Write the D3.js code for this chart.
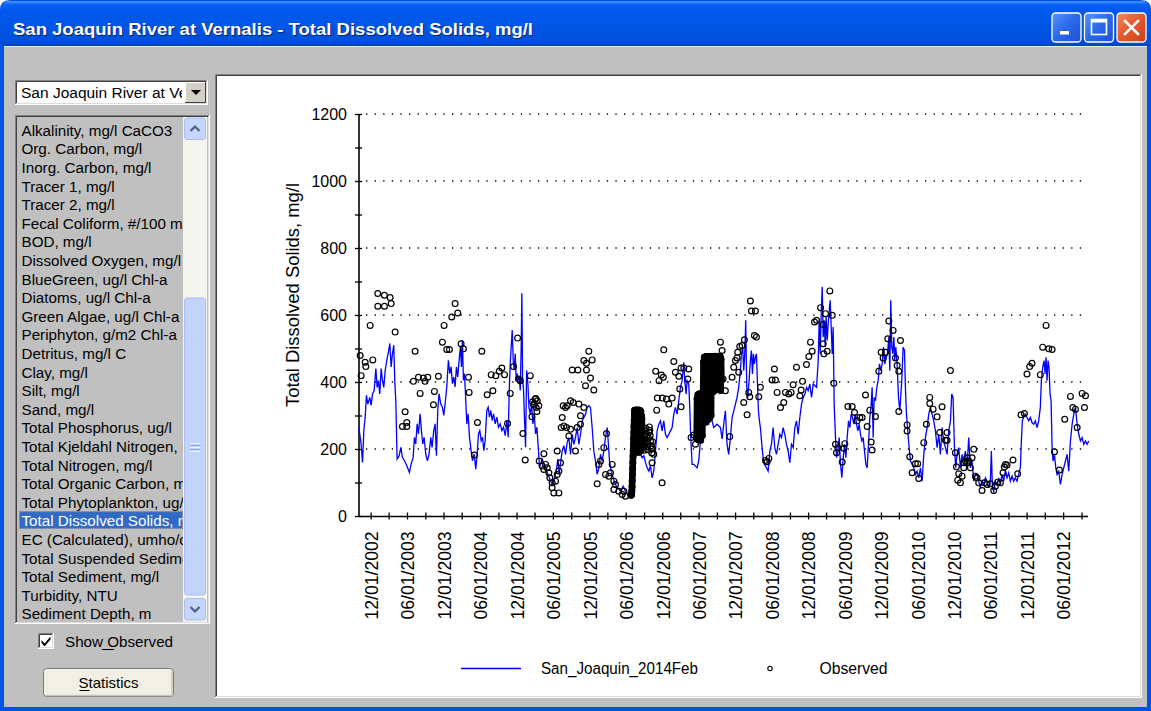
<!DOCTYPE html>
<html>
<head>
<meta charset="utf-8">
<script src="https://cdn.jsdelivr.net/npm/d3@7"></script>
<style>
  body { margin: 0; background: #ffffff; }
  svg { display: block; font-family: "Liberation Sans", Arial, sans-serif; }
</style>
</head>
<body>
<svg id="win" width="1151" height="711"></svg>
<script>
// values, time as decimal year

const windowTitle = "San Joaquin River at Vernalis - Total Dissolved Solids, mg/l";
const stationName = "San Joaquin River at Vernalis";
const yTitle = "Total Dissolved Solids, mg/l";
const simName = "San_Joaquin_2014Feb";
const obsName = "Observed";

const listItems = ["Alkalinity, mg/l CaCO3","Org. Carbon, mg/l","Inorg. Carbon, mg/l","Tracer 1, mg/l","Tracer 2, mg/l",
  "Fecal Coliform, #/100 ml","BOD, mg/l","Dissolved Oxygen, mg/l","BlueGreen, ug/l Chl-a","Diatoms, ug/l Chl-a",
  "Green Algae, ug/l Chl-a","Periphyton, g/m2 Chl-a","Detritus, mg/l C","Clay, mg/l","Silt, mg/l","Sand, mg/l",
  "Total Phosphorus, ug/l","Total Kjeldahl Nitrogen, mg/l","Total Nitrogen, mg/l","Total Organic Carbon, mg/l",
  "Total Phytoplankton, ug/l Chl-a","Total Dissolved Solids, mg/l","EC (Calculated), umho/cm",
  "Total Suspended Sediment, mg/l","Total Sediment, mg/l","Turbidity, NTU","Sediment Depth, m"];
const selectedItem = "Total Dissolved Solids, mg/l";

const yTicks = [0, 200, 400, 600, 800, 1000, 1200];
const xLabelDates = ["2002-12-01","2003-06-01","2003-12-01","2004-06-01","2004-12-01","2005-06-01","2005-12-01",
  "2006-06-01","2006-12-01","2007-06-01","2007-12-01","2008-06-01","2008-12-01","2009-06-01","2009-12-01",
  "2010-06-01","2010-12-01","2011-06-01","2011-12-01","2012-06-01"];
const xStart = "2002-10-01", xEnd = "2012-10-01";

// simulated TDS
const simTds = [
[2002.748,264],[2002.766,244],[2002.784,214],[2002.803,160],[2002.821,254],[2002.839,294],[2002.857,360],[2002.876,334],
[2002.903,354],[2002.922,330],[2002.940,364],[2002.963,374],[2002.986,440],[2003.004,384],[2003.022,404],[2003.040,364],
[2003.059,440],[2003.077,404],[2003.095,384],[2003.114,434],[2003.136,464],[2003.159,490],[2003.178,515],[2003.196,445],
[2003.214,485],[2003.232,510],[2003.246,404],[2003.260,345],[2003.278,170],[2003.306,180],[2003.329,205],[2003.351,175],
[2003.379,165],[2003.411,150],[2003.447,130],[2003.470,155],[2003.498,175],[2003.516,235],[2003.534,215],[2003.553,275],
[2003.571,245],[2003.594,305],[2003.612,255],[2003.630,215],[2003.649,235],[2003.671,185],[2003.694,165],[2003.717,185],
[2003.740,235],[2003.758,205],[2003.781,255],[2003.800,275],[2003.818,180],[2003.836,315],[2003.854,365],[2003.877,335],
[2003.900,325],[2003.918,300],[2003.937,335],[2003.960,385],[2003.982,465],[2004.001,425],[2004.019,445],[2004.037,395],
[2004.056,415],[2004.074,385],[2004.092,445],[2004.110,415],[2004.129,465],[2004.147,505],[2004.161,445],[2004.174,525],
[2004.188,405],[2004.202,425],[2004.216,365],[2004.234,275],[2004.252,305],[2004.271,235],[2004.293,195],[2004.312,165],
[2004.335,185],[2004.357,140],[2004.376,185],[2004.394,245],[2004.412,255],[2004.431,225],[2004.449,235],[2004.467,195],
[2004.485,225],[2004.508,315],[2004.527,325],[2004.545,295],[2004.563,315],[2004.581,285],[2004.600,305],[2004.623,275],
[2004.645,295],[2004.668,265],[2004.691,275],[2004.714,255],[2004.737,265],[2004.760,240],[2004.783,285],[2004.801,235],
[2004.815,375],[2004.829,455],[2004.842,505],[2004.856,555],[2004.870,465],[2004.883,435],[2004.897,485],[2004.911,405],
[2004.924,425],[2004.938,405],[2004.952,415],[2004.966,375],[2004.979,505],[2004.988,665],[2004.998,415],[2005.011,375],
[2005.025,285],[2005.039,205],[2005.053,435],[2005.071,395],[2005.085,325],[2005.103,305],[2005.121,335],[2005.139,275],
[2005.158,305],[2005.176,245],[2005.194,265],[2005.213,205],[2005.231,145],[2005.267,170],[2005.299,150],[2005.336,130],
[2005.372,110],[2005.404,95],[2005.436,110],[2005.464,140],[2005.482,170],[2005.500,125],[2005.541,194],[2005.564,210],
[2005.587,184],[2005.610,220],[2005.633,234],[2005.656,184],[2005.679,244],[2005.702,214],[2005.724,234],[2005.747,264],
[2005.770,214],[2005.793,244],[2005.816,284],[2005.839,294],[2005.862,304],[2005.885,324],[2005.907,329],[2005.930,324],
[2005.953,264],[2005.976,194],[2005.999,164],[2006.022,124],[2006.045,144],[2006.068,184],[2006.090,164],[2006.113,194],
[2006.136,234],[2006.159,264],[2006.173,224],[2006.191,164],[2006.214,134],[2006.241,114],[2006.273,94],[2006.305,84],
[2006.342,74],[2006.378,89],[2006.410,74],[2006.442,64],[2006.480,75],[2006.500,110],[2006.530,170],[2006.560,195],
[2006.590,200],[2006.616,184],[2006.639,174],[2006.662,180],[2006.685,160],[2006.708,144],[2006.731,134],[2006.753,150],
[2006.776,114],[2006.799,134],[2006.822,194],[2006.845,254],[2006.868,274],[2006.891,284],[2006.913,254],[2006.936,284],
[2006.959,244],[2006.982,234],[2007.005,244],[2007.028,254],[2007.051,264],[2007.074,304],[2007.096,324],[2007.119,304],
[2007.142,344],[2007.165,384],[2007.188,404],[2007.211,459],[2007.224,404],[2007.243,364],[2007.256,404],[2007.279,394],
[2007.293,324],[2007.307,234],[2007.325,154],[2007.348,154],[2007.371,149],[2007.394,144],[2007.416,164],[2007.439,224],
[2007.462,264],[2007.485,264],[2007.508,284],[2007.554,274],[2007.576,304],[2007.622,264],[2007.668,274],[2007.714,264],
[2007.737,230],[2007.759,274],[2007.782,314],[2007.805,214],[2007.828,184],[2007.851,234],[2007.874,294],[2007.897,314],
[2007.920,334],[2007.942,354],[2007.965,384],[2007.988,434],[2008.002,484],[2008.020,504],[2008.034,434],[2008.048,484],
[2008.061,584],[2008.075,384],[2008.089,354],[2008.107,404],[2008.125,464],[2008.139,494],[2008.153,424],[2008.166,484],
[2008.180,454],[2008.194,474],[2008.208,484],[2008.221,404],[2008.235,314],[2008.249,284],[2008.262,264],[2008.281,214],
[2008.299,174],[2008.317,154],[2008.345,144],[2008.368,134],[2008.391,194],[2008.413,214],[2008.436,264],[2008.459,204],
[2008.482,184],[2008.505,214],[2008.528,244],[2008.551,234],[2008.573,264],[2008.596,244],[2008.619,214],[2008.642,194],
[2008.665,159],[2008.688,214],[2008.711,204],[2008.733,264],[2008.756,284],[2008.779,244],[2008.802,294],[2008.825,334],
[2008.848,354],[2008.871,364],[2008.894,384],[2008.916,374],[2008.939,394],[2008.962,354],[2008.985,394],[2009.008,389],
[2009.031,384],[2009.054,464],[2009.067,584],[2009.081,484],[2009.095,604],[2009.109,684],[2009.122,534],[2009.136,584],
[2009.150,504],[2009.163,594],[2009.177,524],[2009.191,574],[2009.205,614],[2009.218,644],[2009.232,564],[2009.246,484],
[2009.259,564],[2009.273,334],[2009.291,234],[2009.305,174],[2009.323,194],[2009.342,234],[2009.360,154],[2009.378,114],
[2009.397,174],[2009.415,214],[2009.433,174],[2009.451,234],[2009.470,284],[2009.488,264],[2009.506,304],[2009.525,294],
[2009.543,274],[2009.561,304],[2009.580,274],[2009.598,254],[2009.616,274],[2009.634,244],[2009.653,224],[2009.671,234],
[2009.689,194],[2009.708,154],[2009.726,144],[2009.744,214],[2009.762,294],[2009.781,334],[2009.794,384],[2009.808,234],
[2009.822,354],[2009.840,344],[2009.858,384],[2009.877,404],[2009.895,454],[2009.913,434],[2009.932,454],[2009.950,504],
[2009.968,454],[2009.986,474],[2010.005,484],[2010.023,534],[2010.037,434],[2010.050,644],[2010.064,504],[2010.078,484],
[2010.092,534],[2010.105,464],[2010.119,504],[2010.137,454],[2010.156,354],[2010.174,314],[2010.201,404],[2010.219,504],
[2010.238,494],[2010.251,384],[2010.265,304],[2010.283,254],[2010.302,204],[2010.320,164],[2010.343,154],[2010.366,144],
[2010.389,124],[2010.411,134],[2010.434,114],[2010.457,144],[2010.480,104],[2010.503,184],[2010.526,234],[2010.549,264],
[2010.571,304],[2010.594,324],[2010.617,304],[2010.640,284],[2010.663,254],[2010.686,204],[2010.709,244],[2010.731,184],
[2010.754,264],[2010.777,224],[2010.800,204],[2010.823,184],[2010.846,254],[2010.869,284],[2010.887,364],[2010.905,354],
[2010.924,204],[2010.942,144],[2010.960,184],[2010.983,204],[2011.006,144],[2011.029,184],[2011.052,164],[2011.074,194],
[2011.097,144],[2011.120,234],[2011.143,144],[2011.166,164],[2011.189,104],[2011.212,124],[2011.234,124],[2011.257,104],
[2011.280,84],[2011.303,104],[2011.326,94],[2011.349,114],[2011.372,104],[2011.395,84],[2011.417,104],[2011.431,194],
[2011.445,84],[2011.463,74],[2011.486,104],[2011.509,94],[2011.532,114],[2011.555,94],[2011.577,124],[2011.600,104],
[2011.623,134],[2011.646,114],[2011.669,129],[2011.692,104],[2011.715,119],[2011.738,104],[2011.760,114],[2011.783,104],
[2011.806,124],[2011.829,144],[2011.843,224],[2011.856,284],[2011.875,294],[2011.897,304],[2011.920,294],[2011.943,284],
[2011.966,294],[2011.989,279],[2012.012,274],[2012.035,284],[2012.058,264],[2012.080,284],[2012.103,324],[2012.117,404],
[2012.135,444],[2012.154,464],[2012.167,424],[2012.181,474],[2012.195,404],[2012.209,464],[2012.222,444],[2012.236,364],
[2012.250,344],[2012.264,204],[2012.277,164],[2012.296,184],[2012.314,144],[2012.332,124],[2012.355,134],[2012.378,94],
[2012.401,124],[2012.424,144],[2012.446,164],[2012.469,184],[2012.492,134],[2012.515,224],[2012.538,274],[2012.561,304],
[2012.584,324],[2012.607,274],[2012.629,244],[2012.652,224],[2012.675,234],[2012.698,214],[2012.721,224],[2012.744,214],
[2012.766,224]];

// observed grab samples
const obsTds = [
[2002.771,479],[2002.784,419],[2002.839,459],[2002.848,446],[2002.908,569],[2002.944,466],[2003.013,664],[2003.013,626],
[2003.104,659],[2003.104,626],[2003.182,652],[2003.196,634],[2003.251,549],[2003.351,267],[2003.388,311],[2003.411,267],
[2003.411,279],[2003.502,402],[2003.525,492],[2003.571,414],[2003.594,366],[2003.639,412],[2003.662,402],[2003.699,414],
[2003.777,332],[2003.790,372],[2003.845,417],[2003.900,519],[2003.923,569],[2003.959,497],[2003.996,497],[2004.028,594],
[2004.074,634],[2004.110,606],[2004.156,514],[2004.188,499],[2004.257,414],[2004.266,369],[2004.339,182],[2004.380,279],
[2004.440,492],[2004.513,362],[2004.568,422],[2004.591,374],[2004.632,419],[2004.678,432],[2004.714,442],[2004.751,422],
[2004.792,276],[2004.829,366],[2004.874,446],[2004.929,531],[2004.943,409],[2004.966,404],[2005.002,246],[2005.034,167],
[2005.103,419],[2005.126,296],[2005.135,341],[2005.149,334],[2005.158,331],[2005.171,349],[2005.180,351],[2005.185,324],
[2005.194,312],[2005.226,164],[2005.199,344],[2005.221,329],[2005.267,149],[2005.290,186],[2005.290,139],[2005.313,154],
[2005.336,144],[2005.359,129],[2005.372,114],[2005.404,99],[2005.404,84],[2005.427,69],[2005.450,104],[2005.473,124],
[2005.473,194],[2005.496,134],[2005.496,69],[2005.519,159],[2005.528,264],[2005.542,294],[2005.555,329],[2005.565,269],
[2005.587,324],[2005.601,264],[2005.610,329],[2005.633,239],[2005.656,344],[2005.656,259],[2005.679,436],[2005.692,339],
[2005.724,194],[2005.747,264],[2005.757,436],[2005.770,334],[2005.793,274],[2005.793,299],[2005.839,324],[2005.839,464],
[2005.862,389],[2005.875,436],[2005.875,456],[2005.907,492],[2005.930,412],[2005.953,466],[2005.976,376],[2006.022,96],
[2006.045,154],[2006.068,164],[2006.113,204],[2006.136,124],[2006.150,246],[2006.182,119],[2006.205,129],[2006.228,154],
[2006.251,104],[2006.251,79],[2006.273,94],[2006.319,74],[2006.365,64],[2006.388,74],[2006.410,59],[2006.776,159],
[2006.799,184],[2006.825,432],[2006.839,316],[2006.848,352],[2006.871,404],[2006.903,421],[2006.913,99],[2006.917,352],
[2006.930,414],[2006.936,496],[2006.972,349],[2007.005,334],[2007.051,352],[2007.074,461],[2007.096,429],[2007.142,417],
[2007.156,379],[2007.174,442],[2007.174,326],[2007.211,442],[2007.266,409],[2007.279,439],[2007.311,234],[2007.348,242],
[2007.371,214],[2007.714,519],[2007.737,494],[2007.750,409],[2007.782,374],[2007.842,237],[2007.874,414],[2007.897,444],
[2007.920,464],[2007.942,472],[2007.951,489],[2007.965,429],[2007.979,506],[2008.011,509],[2008.034,339],[2008.043,526],
[2008.080,302],[2008.102,369],[2008.116,356],[2008.125,642],[2008.139,612],[2008.180,539],[2008.194,612],[2008.208,534],
[2008.240,356],[2008.262,384],[2008.331,166],[2008.354,162],[2008.377,172],[2008.422,406],[2008.454,439],[2008.468,406],
[2008.491,369],[2008.537,324],[2008.582,339],[2008.605,369],[2008.651,364],[2008.683,369],[2008.710,392],[2008.756,444],
[2008.802,359],[2008.820,376],[2008.839,402],[2008.893,452],[2008.925,476],[2008.948,519],[2008.971,492],[2009.003,579],
[2009.031,584],[2009.086,622],[2009.122,572],[2009.122,514],[2009.131,484],[2009.154,604],[2009.177,492],[2009.213,672],
[2009.246,599],[2009.268,396],[2009.291,214],[2009.305,189],[2009.323,204],[2009.383,161],[2009.406,202],[2009.419,216],
[2009.461,327],[2009.520,327],[2009.552,309],[2009.589,284],[2009.625,294],[2009.657,294],[2009.703,361],[2009.726,267],
[2009.762,316],[2009.781,221],[2009.794,197],[2009.840,297],[2009.886,432],[2009.918,489],[2009.945,472],[2009.977,489],
[2010.009,529],[2010.023,582],[2010.082,554],[2010.114,472],[2010.137,449],[2010.160,432],[2010.160,312],[2010.183,524],
[2010.274,272],[2010.274,254],[2010.311,177],[2010.343,129],[2010.388,156],[2010.420,156],[2010.434,112],[2010.503,219],
[2010.539,274],[2010.585,354],[2010.585,336],[2010.631,319],[2010.686,296],[2010.722,249],[2010.754,326],[2010.800,226],
[2010.823,249],[2010.823,226],[2010.869,434],[2010.937,189],[2010.951,147],[2010.969,107],[2010.983,126],[2011.006,99],
[2011.029,119],[2011.052,144],[2011.052,159],[2011.074,164],[2011.097,159],[2011.097,174],[2011.120,164],[2011.143,144],
[2011.166,174],[2011.189,199],[2011.212,119],[2011.234,114],[2011.257,99],[2011.303,76],[2011.335,99],[2011.372,94],
[2011.417,96],[2011.463,76],[2011.486,89],[2011.518,101],[2011.555,99],[2011.591,129],[2011.609,146],[2011.623,154],
[2011.646,152],[2011.728,167],[2011.792,126],[2011.838,302],[2011.884,306],[2011.920,424],[2011.957,446],[2011.989,456],
[2012.103,422],[2012.135,504],[2012.181,569],[2012.218,499],[2012.264,497],[2012.296,192],[2012.364,137],[2012.437,289],
[2012.515,357],[2012.548,324],[2012.584,319],[2012.607,264],[2012.675,366],[2012.707,324],[2012.721,359]];

// continuous observed records (start as decimal year, step in days)
const dense1Start = 2006.484, dense1Step = 1;
const dense1Tds = [64,62,66,63,68,74,88,106,124,142,160,178,196,214,232,250,268,286,304,316,250,310,200,300,230,316,
  190,280,316,220,300,200,310,260,316,210,290,316,200,270,310,190,300,240,316,210,290,314,205,282,312,196,276,300,204,290,250];
const dense2Start = 2006.640, dense2Step = 2;
const dense2Tds = [262,248,232,218,206,196,212,228,246,262,254,238,222,208,198,214,232,250,266,256,240,224,210,200,188,204,222];
const dense3Start = 2007.388, dense3Step = 2;
const dense3Tds = [232,350,240,362,228,340,250,365,236,345,226,355,248,362,240,335,
  300,460,285,474,310,450,280,476,295,468,320,440,288,474,305,476,292,462,315,476,300,470,
  380,470,400,476,372,474,410,477,390,466,420,476,378,472,400,477,388,470,412,476,395,475,375,468,405];

function yearToDate(t){
  const yr = Math.floor(t);
  const a = Date.UTC(yr,0,1), b = Date.UTC(yr+1,0,1);
  return new Date(a + (t-yr)*(b-a));
}

const svg = d3.select("#win");
const W = 1151, H = 711;

// ---------- window chrome ----------
const defs = svg.append("defs");
const tg = defs.append("linearGradient").attr("id","titleGrad").attr("x1",0).attr("y1",0).attr("x2",0).attr("y2",1);
[[0,"#4a96ff"],[0.08,"#0a62f4"],[0.2,"#0058ee"],[0.6,"#0055e5"],[0.9,"#0050d8"],[1,"#0042c0"]]
  .forEach(s => tg.append("stop").attr("offset",s[0]).attr("stop-color",s[1]));
const bg = defs.append("linearGradient").attr("id","btnBlue").attr("x1",0).attr("y1",0).attr("x2",1).attr("y2",1);
[[0,"#5a93ff"],[0.5,"#2a68ea"],[1,"#1c4fd4"]].forEach(s => bg.append("stop").attr("offset",s[0]).attr("stop-color",s[1]));
const rg = defs.append("linearGradient").attr("id","btnRed").attr("x1",0).attr("y1",0).attr("x2",1).attr("y2",1);
[[0,"#f08a62"],[0.5,"#e2572c"],[1,"#c9401a"]].forEach(s => rg.append("stop").attr("offset",s[0]).attr("stop-color",s[1]));

svg.append("path")
  .attr("d", `M0,${H} V10 Q0,0 10,0 H${W-10} Q${W},0 ${W},10 V${H} Z`)
  .attr("fill","#0054e3");
svg.append("path")
  .attr("d", `M1,46 V10 Q1,1 10,1 H${W-10} Q${W-1},1 ${W-1},10 V46 Z`)
  .attr("fill","url(#titleGrad)");

svg.append("text").attr("x",14).attr("y",35.5)
  .attr("font-size",16.5).attr("font-weight","bold").attr("fill","#0a1e70")
  .attr("textLength",520).attr("lengthAdjust","spacingAndGlyphs").text(windowTitle);
svg.append("text").attr("x",13).attr("y",34.5)
  .attr("font-size",16.5).attr("font-weight","bold").attr("fill","#ffffff")
  .attr("textLength",520).attr("lengthAdjust","spacingAndGlyphs").text(windowTitle);

// caption buttons
const capBtns = [{x:1052, fill:"url(#btnBlue)", kind:"min"}, {x:1084.5, fill:"url(#btnBlue)", kind:"max"}, {x:1117, fill:"url(#btnRed)", kind:"close"}];
capBtns.forEach(b => {
  const g = svg.append("g").attr("transform",`translate(${b.x},13)`);
  g.append("rect").attr("width",29).attr("height",29).attr("rx",3.5)
    .attr("fill",b.fill).attr("stroke","#ffffff").attr("stroke-width",1.3);
  if (b.kind === "min") {
    g.append("rect").attr("x",8).attr("y",18).attr("width",9).attr("height",3.5).attr("fill","#fff");
  } else if (b.kind === "max") {
    g.append("rect").attr("x",7).attr("y",6.5).attr("width",15).attr("height",15).attr("fill","none")
      .attr("stroke","#fff").attr("stroke-width",1.6);
    g.append("rect").attr("x",7).attr("y",6).attr("width",15).attr("height",3.5).attr("fill","#fff");
  } else {
    g.append("path").attr("d","M8,8 L21,21 M21,8 L8,21").attr("stroke","#fff").attr("stroke-width",2.6)
      .attr("stroke-linecap","square");
  }
});

// client area
svg.append("rect").attr("x",4).attr("y",46).attr("width",W-8).attr("height",661).attr("fill","#c0c0c0");
svg.append("line").attr("x1",4).attr("x2",W-4).attr("y1",46.5).attr("y2",46.5).attr("stroke","#e8e8e8");

function sunken(x0,y0,w,h,fill){
  svg.append("rect").attr("x",x0).attr("y",y0).attr("width",w).attr("height",h).attr("fill",fill);
  svg.append("path").attr("d",`M${x0+0.5},${y0+h} V${y0+0.5} H${x0+w}`).attr("fill","none").attr("stroke","#808080");
  svg.append("path").attr("d",`M${x0+1.5},${y0+h-1} V${y0+1.5} H${x0+w-1}`).attr("fill","none").attr("stroke","#404040");
  svg.append("path").attr("d",`M${x0},${y0+h-0.5} H${x0+w-0.5} V${y0}`).attr("fill","none").attr("stroke","#ffffff");
  svg.append("path").attr("d",`M${x0+1},${y0+h-1.5} H${x0+w-1.5} V${y0+1}`).attr("fill","none").attr("stroke","#dcdcdc");
}

// combo box
sunken(15,80,193,25,"#ffffff");
defs.append("clipPath").attr("id","comboClip").append("rect").attr("x",17).attr("y",82).attr("width",165).attr("height",21);
svg.append("text").attr("x",21).attr("y",97.5).attr("font-size",15.5).attr("fill","#000")
  .attr("clip-path","url(#comboClip)").text(stationName);
svg.append("rect").attr("x",185).attr("y",82).attr("width",21).attr("height",21).attr("fill","#d4d0c8");
svg.append("path").attr("d","M185.5,103 V82.5 H206").attr("fill","none").attr("stroke","#ffffff");
svg.append("path").attr("d","M185,102.5 H205.5 V82").attr("fill","none").attr("stroke","#404040");
svg.append("path").attr("d","M191,90 H201 L196,95 Z").attr("fill","#000");

// list box
const LB = {x:15, y:115, w:195, h:509};
sunken(LB.x, LB.y, LB.w, LB.h, "#c0c0c0");
const rowH = 18.6, firstBase = 135.7;
defs.append("clipPath").attr("id","listClip").append("rect").attr("x",17).attr("y",117).attr("width",166).attr("height",505);
const listG = svg.append("g").attr("clip-path","url(#listClip)");
listItems.forEach((d,i) => {
  const base = firstBase + i*rowH;
  if (d === selectedItem) {
    listG.append("rect").attr("x",19).attr("y",base-15.2).attr("width",164).attr("height",17.8).attr("fill","#316ac5");
    listG.append("rect").attr("x",19.5).attr("y",base-14.7).attr("width",163).attr("height",16.8).attr("fill","none")
      .attr("stroke","#f0b060").attr("stroke-dasharray","1,1");
  }
  listG.append("text").attr("x",21.5).attr("y",base).attr("font-size",15.2)
    .attr("fill", d === selectedItem ? "#ffffff" : "#000000").text(d);
});

// scroll bar
svg.append("rect").attr("x",183).attr("y",117).attr("width",24).attr("height",505).attr("fill","#f5f4ee");
function scrollBtn(yTop, up){
  const g = svg.append("g").attr("transform",`translate(184,${yTop})`);
  g.append("rect").attr("x",0.5).attr("y",0.5).attr("width",21).attr("height",21.5).attr("rx",2.5)
    .attr("fill","#c6d6fc").attr("stroke","#a8bff0");
  const p = up ? "M6.5,13.5 L11,9 L15.5,13.5" : "M6.5,9 L11,13.5 L15.5,9";
  g.append("path").attr("d",p).attr("fill","none").attr("stroke","#4d6185").attr("stroke-width",2.2);
}
scrollBtn(117.5, true);
scrollBtn(598, false);
svg.append("rect").attr("x",184.5).attr("y",298).attr("width",21).attr("height",297).attr("rx",2.5)
  .attr("fill","#c3d4fc").attr("stroke","#a9c0f2");
[-4,-2,0,2,4].forEach(o => svg.append("line").attr("x1",190).attr("x2",200).attr("y1",447.5+o).attr("y2",447.5+o)
  .attr("stroke", o%4===0 ? "#eef3ff" : "#8eaaf0"));

// check box
sunken(38,633,16,16,"#ffffff");
svg.append("path").attr("d","M41.5,640 L44.5,643.5 L50.5,636.5 L50.5,639.5 L44.5,646.5 L41.5,643 Z").attr("fill","#000");
svg.append("text").attr("x",65).attr("y",647).attr("font-size",15.2).attr("fill","#000").text("Show Observed");
svg.append("line").attr("x1",102).attr("x2",114).attr("y1",649.5).attr("y2",649.5).attr("stroke","#000");

// Statistics button
svg.append("rect").attr("x",43.5).attr("y",668.5).attr("width",130).attr("height",28).attr("rx",3)
  .attr("fill","#f2f0e4").attr("stroke","#7a7a7a");
svg.append("path").attr("d","M45,695.5 H172 V670").attr("fill","none").attr("stroke","#c9c5b4").attr("stroke-width",1.5);
svg.append("text").attr("x",108.5).attr("y",688).attr("text-anchor","middle").attr("font-size",15).attr("fill","#000").text("Statistics");
svg.append("line").attr("x1",79.5).attr("x2",89.5).attr("y1",690.5).attr("y2",690.5).attr("stroke","#000");

// plot panel
sunken(215,74,927,624,"#ffffff");

// ---------- chart ----------
const X0 = 358.5, X1 = 1087.5, Y0 = 516, Y1 = 114;
const x = d3.scaleUtc().domain([new Date(xStart), new Date(xEnd)]).range([X0, X1]);
const y = d3.scaleLinear().domain([0, 1200]).range([Y0, Y1]);

const chart = svg.append("g");

// dotted grid
chart.append("g").selectAll("line").data(yTicks.filter(d => d > 0)).join("line")
  .attr("x1", 366).attr("x2", 1086).attr("y1", d => y(d)).attr("y2", d => y(d))
  .attr("stroke", "#000").attr("stroke-width", 1.3).attr("stroke-dasharray", "1.3,7.3");

// axes
const tickDates = d3.utcMonths(new Date(xStart), new Date(xEnd)).filter(d => d.getUTCMonth() % 3 === 2);
const labelSet = new Set(xLabelDates.map(s => +new Date(s)));
const fmt = d3.utcFormat("%m/%d/%Y");

const gx = chart.append("g").attr("transform", `translate(0,${Y0})`)
  .call(d3.axisBottom(x).tickValues(tickDates).tickSizeOuter(0).tickFormat(d => labelSet.has(+d) ? fmt(d) : ""));
gx.select(".domain").attr("stroke", "#000").attr("stroke-width", 1.6);
gx.selectAll(".tick line").attr("y1", -3.5).attr("y2", 3.5).attr("stroke", "#000").attr("stroke-width", 1.3);
gx.selectAll(".tick text")
  .attr("transform", "rotate(-90)").attr("x", -15.5).attr("y", 0).attr("dy", "0.36em")
  .attr("text-anchor", "end").attr("fill", "#000")
  .attr("font-size", 19).attr("font-family", "Liberation Sans, Arial, sans-serif")
  .each(function(){ if (this.textContent) d3.select(this).attr("textLength", 88).attr("lengthAdjust", "spacingAndGlyphs"); });

const gy = chart.append("g").attr("transform", `translate(${X0},0)`)
  .call(d3.axisLeft(y).tickValues(d3.range(0, 1201, 100)).tickSizeOuter(0).tickFormat(d => d % 200 === 0 ? d : ""));
gy.select(".domain").attr("stroke", "#000").attr("stroke-width", 1.6);
gy.selectAll(".tick line").attr("x1", 3.5).attr("x2", -3.5).attr("stroke", "#000").attr("stroke-width", 1.3);
gy.selectAll(".tick text").attr("x", -11.5).attr("dy", "0.36em").attr("fill", "#000")
  .attr("font-size", 16).attr("font-family", "Liberation Sans, Arial, sans-serif");

chart.append("text")
  .attr("transform", "translate(298.5,295) rotate(-90)")
  .attr("text-anchor", "middle").attr("font-size", 19).attr("fill", "#000")
  .attr("textLength", 224).attr("lengthAdjust", "spacingAndGlyphs")
  .text(yTitle);

// simulated line
const line = d3.line().x(d => x(yearToDate(d[0]))).y(d => y(d[1]));
chart.append("path").datum(simTds)
  .attr("d", line).attr("fill", "none").attr("stroke", "#0000ff").attr("stroke-width", 1.3);

// observed
function expand(start, stepDays, vals){
  const t0 = yearToDate(start);
  return vals.map((v,i) => [d3.utcDay.offset(t0, i*stepDays), v]);
}
const dense1 = expand(dense1Start, dense1Step, dense1Tds);
const dense2 = expand(dense2Start, dense2Step, dense2Tds);
const dense3 = expand(dense3Start, dense3Step, dense3Tds);
const obsAll = obsTds.map(d => [yearToDate(d[0]), d[1]]).concat(dense1, dense2, dense3);

// continuous records: markers this close merge into a solid band
const denseLine = d3.line().x(d => x(d[0])).y(d => y(d[1]));
[dense1, dense3].forEach(rec => {
  chart.append("path").datum(rec).attr("d", denseLine)
    .attr("fill", "none").attr("stroke", "#000").attr("stroke-width", 6.6)
    .attr("stroke-linejoin", "round").attr("stroke-linecap", "round");
});

chart.append("g").selectAll("circle").data(obsAll).join("circle")
  .attr("cx", d => x(d[0])).attr("cy", d => y(d[1])).attr("r", 2.9)
  .attr("fill", "none").attr("stroke", "#000").attr("stroke-width", 1.2);

// legend
const lg = chart.append("g");
lg.append("line").attr("x1", 461).attr("x2", 521).attr("y1", 668.5).attr("y2", 668.5)
  .attr("stroke", "#0000ff").attr("stroke-width", 1.3);
lg.append("text").attr("x", 541).attr("y", 674).attr("font-size", 16).attr("fill", "#000")
  .attr("textLength", 157).attr("lengthAdjust", "spacingAndGlyphs").text(simName);
lg.append("circle").attr("cx", 770).attr("cy", 668.5).attr("r", 2.2)
  .attr("fill", "none").attr("stroke", "#000").attr("stroke-width", 1.1);
lg.append("text").attr("x", 819.5).attr("y", 674).attr("font-size", 16).attr("fill", "#000")
  .attr("textLength", 68).attr("lengthAdjust", "spacingAndGlyphs").text(obsName);
</script>
</body>
</html>
